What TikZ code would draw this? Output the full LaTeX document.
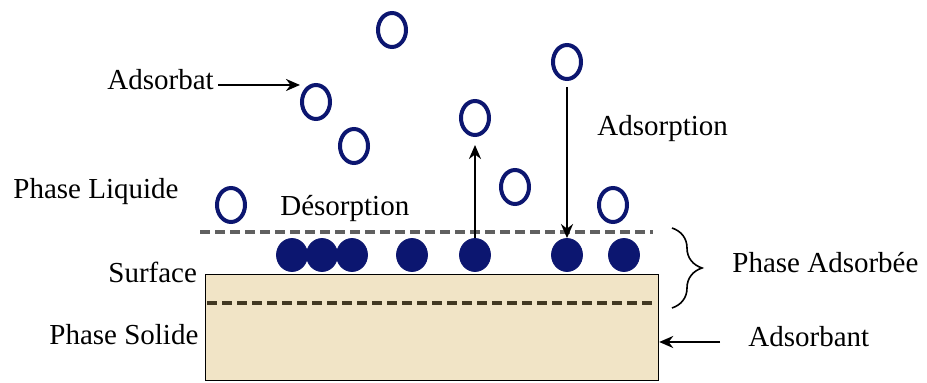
\documentclass[tikz,border=0pt]{standalone}
\usepackage{fontspec}
\setmainfont{Liberation Serif}
\usetikzlibrary{shapes.geometric,arrows.meta,decorations.pathreplacing}
\definecolor{molnavy}{RGB}{12,22,112}
\definecolor{sandbeige}{RGB}{241,228,198}
\definecolor{layerbrown}{RGB}{66,56,34}
\begin{document}
\begin{tikzpicture}[x=0.5pt, y=-0.5pt,
            molecule/.style={ellipse, draw=molnavy, line width=2pt, minimum width=14pt, minimum height=17pt, inner sep=0pt},
            adsorbed/.style={ellipse, draw=molnavy, fill=molnavy, minimum width=15.5pt, minimum height=16.5pt, inner sep=0pt},
            lbl/.style={anchor=base west, inner sep=0pt, font=\fontsize{14.5}{17}\selectfont},
            arrow/.style={line width=1.2pt, -{Stealth[length=7pt, width=6pt]}},
            layer/.style={line width=1.7pt, dash pattern=on 5pt off 2.5pt}
        ]
        \path[fill=white, use as bounding box] (0,0) rectangle (927,383);

        % Solid phase and the two boundaries of the adsorbed phase
        \node[draw, fill=sandbeige, line width=0.6pt, anchor=north west, minimum width=226.5pt, minimum height=53pt, inner sep=0pt] (solid) at (205,274) {};
        \draw[layer, draw=gray!75!black] (200,232) -- (653,232);
        \draw[layer, draw=layerbrown] (207,303) -- (653,303);

        % Free molecules in the liquid phase
        \foreach \x/\y [count=\n from 1] in {392/30, 316/102, 354/146, 231/205, 475/118, 515/187, 567/62, 613/205} {
                \node[molecule] (O\n) at (\x,\y) {};
            }

        % Adsorbed molecules on the surface
        \foreach \x [count=\n from 1] in {292, 322, 352, 412, 475, 567, 624} {
                \node[adsorbed] (F\n) at (\x,255) {};
            }

        % Labels
        \node[lbl] (lAdsorbat) at (107,90) {Adsorbat};
        \node[lbl] (lLiquide) at (13,199) {Phase Liquide};
        \node[lbl] (lDesorption) at (280,216) {Désorption};
        \node[lbl] (lAdsorption) at (597,136) {Adsorption};
        \node[lbl] (lSurface) at (108,283) {Surface};
        \node[lbl] (lSolide) at (49,345) {Phase Solide};
        \node[lbl] (lPhaseAds) at (732,273) {Phase Adsorbée};
        \node[lbl] (lAdsorbant) at (748,347) {Adsorbant};

        % Arrows
        \coordinate (adsPt) at (300,85);
        \coordinate (adsbTail) at (720,342);
        \draw[arrow] (lAdsorbat.east |- adsPt) ++(4,0) -- (adsPt);
        \draw[arrow, shorten >=4pt] (F5) -- (O5);
        \draw[arrow, shorten <=3pt] (O7) -- (F6);
        \draw[arrow] (adsbTail) -- (solid.east |- adsbTail);

        % Brace round the adsorbed phase
        \draw[line width=0.8pt, decorate, decoration={brace, amplitude=15pt}] (672,228) -- (672,308);
    \end{tikzpicture}
\end{document}
